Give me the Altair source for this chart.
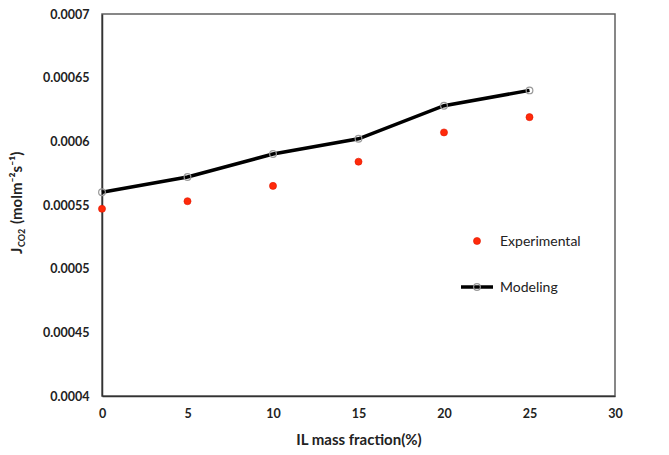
import altair as alt
import pandas as pd

mass_fraction = [0, 5, 10, 15, 20, 25]
experimental = [0.000547, 0.000553, 0.000565, 0.000584, 0.000607, 0.000619]
modeling = [0.000560, 0.000572, 0.000590, 0.000602, 0.000628, 0.000640]

x_ticks = [0, 5, 10, 15, 20, 25, 30]
y_ticks = [0.0004, 0.00045, 0.0005, 0.00055, 0.0006, 0.00065, 0.0007]

exp_df = pd.DataFrame({"x": mass_fraction, "y": experimental})
mod_df = pd.DataFrame({"x": mass_fraction, "y": modeling})

FONT = "Lato"

xscale = alt.Scale(domain=[0, 30], nice=False, zero=False)
yscale = alt.Scale(domain=[0.0004, 0.0007], nice=False, zero=False)

xaxis = alt.Axis(values=x_ticks, title="IL mass fraction(%)", grid=False, ticks=False,
                 labelPadding=11, labelFont=FONT, labelFontSize=12.5, labelFontWeight="bold",
                 labelColor="#222", titleFont=FONT, titleFontSize=15, titleFontWeight="bold",
                 titleColor="#222", titlePadding=13, domainColor="#333", domainWidth=1.5,
                 labelFlush=False)
yaxis = alt.Axis(values=y_ticks, title=None, grid=False, ticks=False, format=".5~f",
                 labelPadding=13, labelFont=FONT, labelFontSize=12.5, labelFontWeight="bold",
                 labelColor="#222", domainColor="#333", domainWidth=1.5, labelFlush=False)

exp_pts = alt.Chart(exp_df).mark_point(filled=True, size=50, color="#FF2A0A",
                                        stroke="#E01500", strokeWidth=0.6, opacity=1).encode(
    x=alt.X("x:Q", scale=xscale, axis=xaxis),
    y=alt.Y("y:Q", scale=yscale, axis=yaxis),
)

mod_line = alt.Chart(mod_df).mark_line(color="black", strokeWidth=3.5).encode(
    x=alt.X("x:Q", scale=xscale), y=alt.Y("y:Q", scale=yscale))
mod_pts = alt.Chart(mod_df).mark_point(filled=False, size=45, color="#999", strokeWidth=1.2,
                                        opacity=1).encode(
    x=alt.X("x:Q", scale=xscale), y=alt.Y("y:Q", scale=yscale))

# legend (inside plot)
leg_exp_dot = alt.Chart(pd.DataFrame({"a": [0]})).mark_point(
    filled=True, size=50, color="#FF2A0A", stroke="#E01500", strokeWidth=0.6, opacity=1
).encode(x=alt.value(375), y=alt.value(227))
leg_exp_txt = alt.Chart(pd.DataFrame({"t": ["Experimental"]})).mark_text(
    align="left", baseline="middle", font=FONT, fontSize=14, color="#222"
).encode(x=alt.value(398), y=alt.value(228), text="t:N")
leg_mod_line = alt.Chart(pd.DataFrame({"a": [0]})).mark_rule(color="black", strokeWidth=3.5).encode(
    x=alt.value(359), x2=alt.value(391), y=alt.value(273))
leg_mod_dot = alt.Chart(pd.DataFrame({"a": [0]})).mark_point(
    filled=False, size=45, color="#999", strokeWidth=1.2, opacity=1
).encode(x=alt.value(375), y=alt.value(273))
leg_mod_txt = alt.Chart(pd.DataFrame({"t": ["Modeling"]})).mark_text(
    align="left", baseline="middle", font=FONT, fontSize=14, color="#222"
).encode(x=alt.value(398), y=alt.value(274), text="t:N")

# y-axis title with subscript
yt_main = alt.Chart(pd.DataFrame({"t": ["J"]})).mark_text(
    align="left", baseline="alphabetic", angle=270, font=FONT, fontSize=15,
    fontWeight="bold", color="#222"
).encode(x=alt.value(-80), y=alt.value(240), text="t:N")
yt_sub = alt.Chart(pd.DataFrame({"t": ["CO2"]})).mark_text(
    align="left", baseline="alphabetic", angle=270, font=FONT, fontSize=9,
    fontWeight="bold", color="#222"
).encode(x=alt.value(-77), y=alt.value(233), text="t:N")
yt_rest = alt.Chart(pd.DataFrame({"t": ["(molm\u207b\u00b2s\u207b\u00b9)"]})).mark_text(
    align="left", baseline="alphabetic", angle=270, font=FONT, fontSize=15,
    fontWeight="bold", color="#222"
).encode(x=alt.value(-80), y=alt.value(210), text="t:N")

chart = alt.layer(
    mod_line, mod_pts, exp_pts,
    leg_exp_dot, leg_exp_txt, leg_mod_line, leg_mod_dot, leg_mod_txt,
    yt_main, yt_sub, yt_rest,
).properties(
    width=513, height=382,
    background="white",
    autosize=alt.AutoSizeParams(type="none"),
    padding={"left": 94, "top": 6, "right": 40, "bottom": 56},
).configure_view(
    stroke="#606060", strokeWidth=1.5
)

chart.save("out.html", embed_options={"renderer": "svg", "actions": False})
